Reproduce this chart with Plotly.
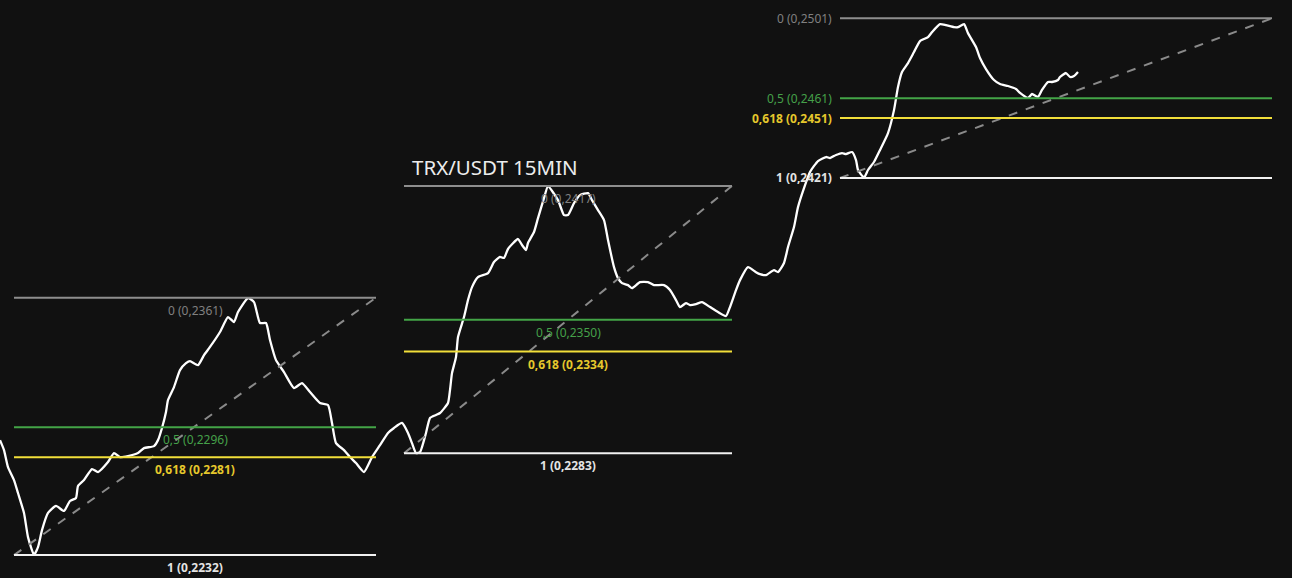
import plotly.graph_objects as go

# 15분봉 인덱스 / 종가
bar_idx = [
    0, 2, 4, 7, 9, 12, 14, 17, 19, 21, 24, 28, 32, 35, 38, 39, 42, 46, 49, 54,
    57, 60, 64, 69, 72, 77, 79, 81, 83, 84, 87, 90, 93, 95, 99, 102, 105, 110, 114, 117,
    119, 124, 127, 130, 133, 135, 138, 142, 147, 151, 155, 160, 164, 166, 168, 172, 175, 178, 182, 186,
    190, 194, 197, 201, 204, 206, 208, 210, 213, 215, 218, 220, 224, 225, 226, 228, 229, 232, 234, 236,
    239, 244, 247, 250, 252, 254, 259, 261, 263, 264, 267, 269, 272, 274, 279, 282, 284, 287, 290, 294,
    296, 299, 302, 304, 307, 309, 311, 314, 316, 320, 324, 327, 332, 335, 338, 340, 343, 345, 348, 351,
    355, 359, 363, 365, 368, 370, 374, 378, 380, 383, 387, 389, 392, 394, 397, 399, 402, 405, 409, 413,
    415, 418, 421, 423, 426, 428, 429, 432, 434, 437, 440, 444, 447, 449, 451, 454, 457, 460, 464, 466,
    470, 473, 477, 479, 482, 484, 488, 490, 493, 497, 500, 504, 508, 510, 514, 516, 519, 521, 524, 526,
    529, 530, 533, 535, 537, 539,
]
close = [
    0.22896, 0.22846, 0.22761, 0.22696, 0.22631, 0.22531, 0.22410, 0.22322, 0.22360, 0.22445,
    0.22531, 0.22566, 0.22541, 0.22591, 0.22606, 0.22666, 0.22696, 0.22751, 0.22736, 0.22786,
    0.22831, 0.22811, 0.22816, 0.22831, 0.22856, 0.22866, 0.22896, 0.22957, 0.23037, 0.23097,
    0.23162, 0.23247, 0.23282, 0.23292, 0.23272, 0.23322, 0.23363, 0.23438, 0.23513, 0.23488,
    0.23538, 0.23608, 0.23588, 0.23483, 0.23483, 0.23398, 0.23297, 0.23237, 0.23157, 0.23182,
    0.23137, 0.23082, 0.23072, 0.22982, 0.22881, 0.22846, 0.22811, 0.22781, 0.22736, 0.22811,
    0.22871, 0.22932, 0.22957, 0.22982, 0.22932, 0.22881, 0.22832, 0.22836, 0.22932, 0.23007,
    0.23022, 0.23032, 0.23082, 0.23147, 0.23232, 0.23312, 0.23413, 0.23513, 0.23598, 0.23663,
    0.23713, 0.23733, 0.23789, 0.23814, 0.23809, 0.23854, 0.23904, 0.23874, 0.23849, 0.23884,
    0.23939, 0.24009, 0.24109, 0.24168, 0.24099, 0.24024, 0.24024, 0.24084, 0.24124, 0.24134,
    0.24099, 0.24049, 0.23999, 0.23899, 0.23763, 0.23708, 0.23683, 0.23673, 0.23658, 0.23688,
    0.23688, 0.23673, 0.23673, 0.23648, 0.23598, 0.23563, 0.23583, 0.23573, 0.23578, 0.23588,
    0.23563, 0.23538, 0.23518, 0.23563, 0.23648, 0.23698, 0.23763, 0.23738, 0.23728, 0.23723,
    0.23748, 0.23738, 0.23784, 0.23864, 0.23964, 0.24064, 0.24159, 0.24240, 0.24295, 0.24315,
    0.24310, 0.24325, 0.24335, 0.24330, 0.24340, 0.24300, 0.24250, 0.24212, 0.24250, 0.24290,
    0.24350, 0.24435, 0.24550, 0.24666, 0.24741, 0.24786, 0.24841, 0.24896, 0.24916, 0.24941,
    0.24981, 0.24976, 0.24966, 0.24966, 0.24981, 0.24936, 0.24866, 0.24811, 0.24756, 0.24701,
    0.24681, 0.24671, 0.24656, 0.24636, 0.24611, 0.24631, 0.24616, 0.24651, 0.24691, 0.24691,
    0.24701, 0.24716, 0.24736, 0.24716, 0.24721, 0.24741,
]

# 피보나치 되돌림 3개 (시작/끝 봉, 레벨 가격)
fib_start = [7, 202, 420]
fib_end = [188, 366, 636]
level_0 = [0.2361, 0.2417, 0.2501]
level_05 = [0.2296, 0.2350, 0.2461]
level_0618 = [0.2281, 0.2334, 0.2451]
level_1 = [0.2232, 0.2283, 0.2421]
label_side = ["below", "below", "left"]

TITLE = "TRX/USDT 15MIN"
BG = "#111111"
FONT = "Noto Sans"

fib_styles = [
    ("0", level_0, "#8e8e8e", "#808080", False),
    ("0,5", level_05, "#43a547", "#45a049", False),
    ("0,618", level_0618, "#f2df3a", "#e6c82c", True),
    ("1", level_1, "#f2f2f2", "#e4e4e4", True),
]


def fmt(v):
    return f"{v:.4f}".replace(".", ",")


fig = go.Figure()

fig.add_trace(
    go.Scatter(
        x=bar_idx,
        y=close,
        mode="lines",
        line={"color": "white", "width": 2.3, "shape": "spline", "smoothing": 0.5},
        hoverinfo="skip",
        showlegend=False,
    )
)

for i in range(len(fib_start)):
    x0, x1 = fib_start[i], fib_end[i]
    # 대각선 (1 -> 0)
    fig.add_shape(
        type="line", x0=x0, x1=x1, y0=level_1[i], y1=level_0[i],
        line={"color": "#8a8a8a", "width": 2, "dash": "dash"},
    )
    for name, levels, line_color, text_color, bold in fib_styles:
        lv = levels[i]
        fig.add_shape(
            type="line", x0=x0, x1=x1, y0=lv, y1=lv,
            line={"color": line_color, "width": 2},
        )
        text = f"{name} ({fmt(lv)})"
        if bold:
            text = f"<b>{text}</b>"
        if label_side[i] == "below":
            fig.add_annotation(
                x=(x0 + x1) / 2, y=lv, text=text, showarrow=False,
                xanchor="center", yanchor="top", yshift=-2,
                font={"family": FONT, "size": 12, "color": text_color},
            )
        else:
            fig.add_annotation(
                x=x0, y=lv, text=text, showarrow=False,
                xanchor="right", yanchor="middle", xshift=-6,
                font={"family": FONT, "size": 12, "color": text_color},
            )

fig.add_annotation(
    x=205, y=0.24265, text=TITLE, showarrow=False,
    xanchor="left", yanchor="middle",
    font={"family": FONT, "size": 20.5, "color": "#ececec"},
)

fig.update_layout(
    width=1292,
    height=578,
    margin={"l": 0, "r": 0, "t": 0, "b": 0},
    paper_bgcolor=BG,
    plot_bgcolor=BG,
    xaxis={"visible": False, "range": [0, 646]},
    yaxis={"visible": False, "range": [0.22205, 0.25102]},
    showlegend=False,
)

# 페이지 기본 여백 제거, 모드바 숨김
fig.write_html(
    "out.html",
    config={"displayModeBar": False},
    post_script=f"document.body.style.margin='0'; document.body.style.background='{BG}';",
)
